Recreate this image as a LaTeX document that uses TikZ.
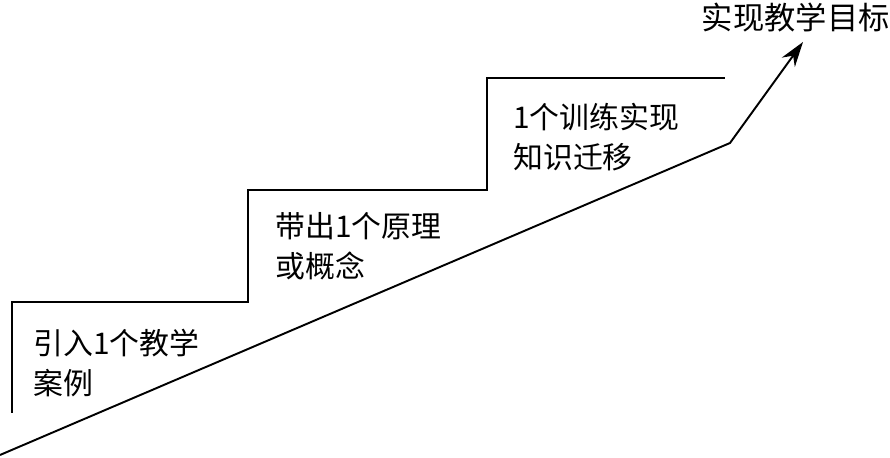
\documentclass[tikz,border=0pt]{standalone}
\usepackage{fontspec}
\newfontfamily\cjk{Noto Sans CJK SC}
\usepackage{tikz}
\usetikzlibrary{arrows.meta}

\begin{document}
\begin{tikzpicture}[
    stair/.style={draw=black, line width=1.6pt},
    ramp/.style={draw=black, line width=1.1pt},
    arr/.style={-{Stealth[length=5mm, width=3.2mm]}},
    stepnote/.style={inner sep=0pt, anchor=west, align=left,
                     font=\cjk\fontsize{17}{22.5}\selectfont},
    goal/.style={inner sep=0pt, anchor=east,
                 font=\cjk\fontsize{17.8}{20}\selectfont}
  ]
  \useasboundingbox (0,0) rectangle (17.8,9.16);

  % staircase
  \coordinate (s0) at (0.24,0.9);
  \coordinate (s1) at (0.24,3.12);
  \coordinate (s2) at (4.96,3.12);
  \coordinate (s3) at (4.96,5.36);
  \coordinate (s4) at (9.74,5.36);
  \coordinate (s5) at (9.74,7.6);
  \coordinate (s6) at (14.5,7.6);
  \draw[stair] (s0) -- (s1) -- (s2) -- (s3) -- (s4) -- (s5) -- (s6);

  % rising line to the goal
  \coordinate (r0) at (0,0.06);
  \coordinate (bend) at (14.6,6.3);
  \coordinate (tip) at (16.06,8.32);
  \draw[ramp, arr] (r0) -- (bend) -- (tip);

  \node[stepnote] (case) at (0.66,1.9) {引入1个教学\\案例};
  \node[stepnote] (idea) at (5.5,4.24) {带出1个原理\\或概念};
  \node[stepnote] (train) at (10.26,6.42) {1个训练实现\\知识迁移};
  \node[goal] (target) at (17.8,8.8) {实现教学目标};

\end{tikzpicture}
\end{document}
